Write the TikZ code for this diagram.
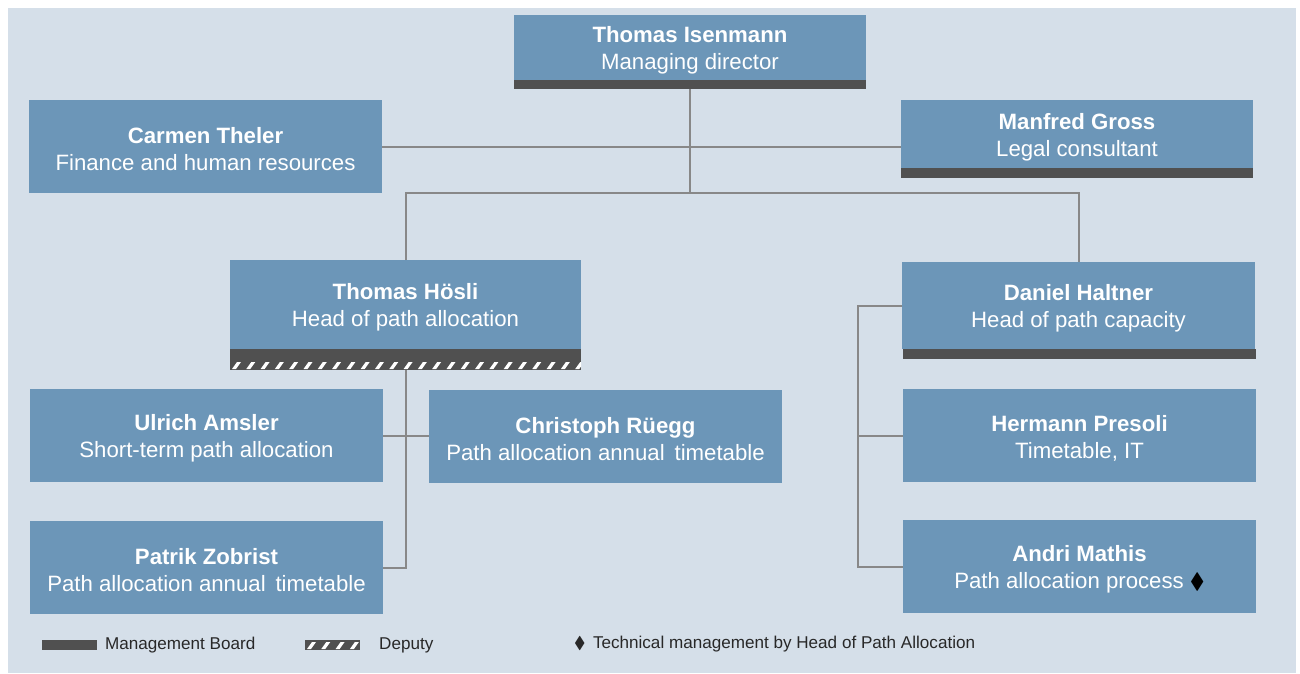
\documentclass[tikz,border=0pt]{standalone}
\usepackage{fontspec}
\setmainfont{Liberation Sans}
\usepackage{amssymb}
\usetikzlibrary{positioning}
\definecolor{boxblue}{RGB}{108,150,184}
\definecolor{backblue}{RGB}{213,223,233}
\definecolor{board}{RGB}{80,80,80}
\definecolor{linegrey}{RGB}{136,136,136}
\definecolor{legendtext}{RGB}{40,40,40}
\newcommand{\person}[2]{\rule{0pt}{22pt}\textbf{#1}\\#2}
\tikzset{
        unit/.style={rectangle,fill=boxblue,text=white,align=center,minimum width=353pt,minimum height=93pt,inner sep=0pt,outer sep=0pt,font=\fontsize{22.2}{27}\selectfont},
        boardbar/.style={rectangle,fill=board,minimum width=352pt,minimum height=10pt,inner sep=0pt,outer sep=0pt},
        deputybar/.style={boardbar,path picture={
                \foreach \s in {2,16.3,...,366}
                        \fill[white] ([xshift=\s pt,yshift=1pt]path picture bounding box.south west) -- ++(4pt,0pt) -- ++(5pt,7pt) -- ++(-4pt,0pt) -- cycle;}},
        link/.style={draw=linegrey,line width=2pt},
        legend/.style={anchor=west,inner sep=0pt,font=\fontsize{17.1}{20}\selectfont,text=legendtext},
        }

\begin{document}
\begin{tikzpicture}[x=1pt,y=-1pt]
			\useasboundingbox (0,0) rectangle (1300,673);
			\fill [backblue] (8,8) rectangle (1296,673);

			% managing director
			\node [unit,minimum width=352pt,minimum height=65pt] (iso) at (690,47.5) {\person{Thomas Isenmann}{Managing director}};
			\node [boardbar,below=0pt of iso,minimum height=9pt] (isobar) {};

			% staff
			\node [unit] (the) at (205.5,146.5) {\person{Carmen Theler}{Finance and human resources}};
			\node [unit,minimum width=352pt,minimum height=68pt] (gro) at (1077,134) {\person{Manfred Gross}{Legal consultant}};
			\node [boardbar,below=0pt of gro] (grobar) {};

			% heads
			\node [unit,minimum width=351pt,minimum height=89pt] (hoe) at (405.5,304.5) {\person{Thomas Hösli}{Head of path allocation}};
			\node [boardbar,below=0pt of hoe,minimum width=351pt,minimum height=11pt] (hoebar) {};
			\node [deputybar,below=0pt of hoebar,minimum width=351pt] (hoedep) {};

			\node [unit,minimum height=87pt] (hal) at (1078.5,305.5) {\person{Daniel Haltner}{Head of path capacity}};
			\node [boardbar,below=0pt of hal,xshift=1pt,minimum width=353pt] (halbar) {};

			% path allocation
			\node [unit] (ams) at (206.5,435.5) {\person{Ulrich Amsler}{Short-term path allocation}};
			\node [unit] (rue) at (605.5,436.5) {\person{Christoph Rüegg}{Path allocation annual\,\ timetable}};
			\node [unit] (zob) at (206.5,567.5) {\person{Patrik Zobrist}{Path allocation annual\,\ timetable}};

			% path capacity
			\node [unit] (pre) at (1079.5,435.5) {\person{Hermann Presoli}{Timetable, IT}};
			\node [unit] (mat) at (1079.5,566.5) {\person{Andri Mathis}{Path allocation process \textcolor{black}{$\blacklozenge$}}};

			% connectors
			\coordinate (split) at (690,193);
			\draw [link] (isobar.south) to (split);
			\draw [link] (hoe.north) |- (split) -| (hal.north);
			\draw [link] (the.east) to (the.east -| gro.west);
			\draw [link] (hoedep.south) |- (zob.east);
			\draw [link] (ams.east) to (ams.east -| rue.west);
			\coordinate [left=44pt of hal.west] (halfork);
			\draw [link] (hal.west) to (halfork) |- (mat.west);
			\draw [link] (halfork |- pre.west) to (pre.west);

			% legend
			\node [boardbar,minimum width=55pt] (legboard) at (69.5,645) {};
			\node [legend,right=8pt of legboard] (legboardtext) {Management Board};
			\node [deputybar,minimum width=55pt] (legdep) at (332.5,645) {};
			\node [legend,right=19pt of legdep] (legdeptext) {Deputy};
			\node [legend] (legdiamond) at (574,644) {$\blacklozenge$};
			\node [legend,right=7pt of legdiamond] (legdiamondtext) {Technical management by Head of Path Allocation};
		\end{tikzpicture}
\end{document}
